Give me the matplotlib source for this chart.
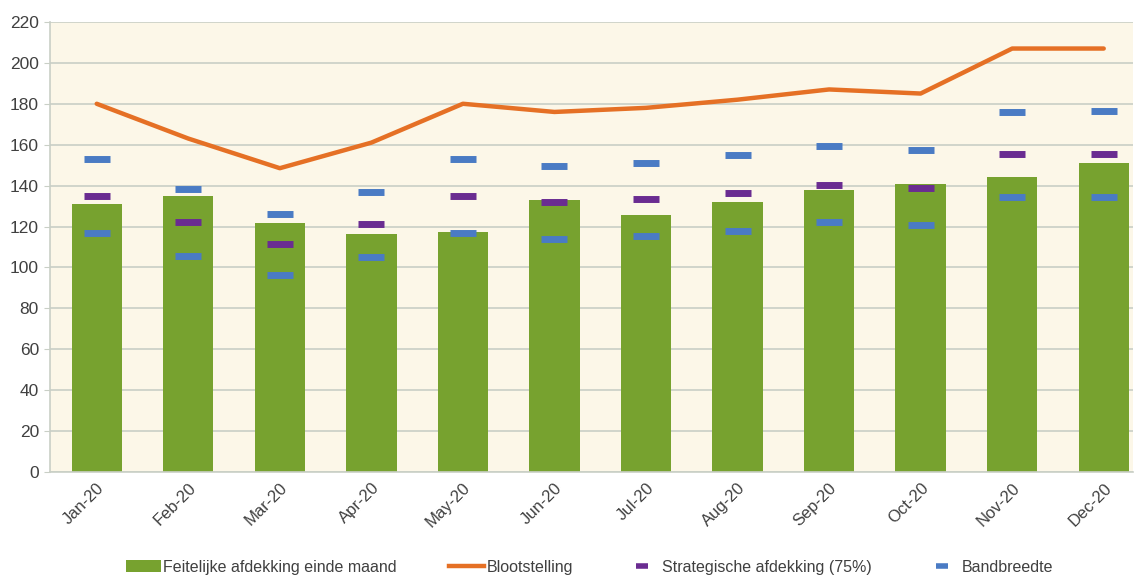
import matplotlib
matplotlib.use("Agg")
import matplotlib.pyplot as plt
from matplotlib.lines import Line2D
from matplotlib.patches import Patch

plt.rcParams['font.family'] = ['Liberation Sans', 'DejaVu Sans']

months = ["Jan-20", "Feb-20", "Mar-20", "Apr-20", "May-20", "Jun-20",
          "Jul-20", "Aug-20", "Sep-20", "Oct-20", "Nov-20", "Dec-20"]
actual = [131, 135, 121.5, 116.5, 117.5, 133, 125.5, 132, 138, 141, 144, 151]
exposure = [180, 163, 148.5, 161, 180, 176, 178, 182, 187, 185, 207, 207]
strategic = [135, 122, 111.5, 121, 135, 132, 133.5, 136.5, 140.5, 139, 155.5, 155.5]
band_upper = [153, 138.5, 126, 137, 153, 149.5, 151, 155, 159.5, 157.5, 176, 176.5]
band_lower = [117, 105.5, 96.5, 105, 117, 114, 115.5, 118, 122, 120.5, 134.5, 134.5]
yticks = [0, 20, 40, 60, 80, 100, 120, 140, 160, 180, 200, 220]

green = "#77a22f"
orange = "#e57025"
purple = "#6a2c91"
blue = "#4a7bc4"
grid = "#c9cfc6"
txt = "#404040"

fig = plt.figure(figsize=(11.37, 5.76), dpi=100)
ax = fig.add_axes([0.044, 0.1806, 0.9525, 0.7813])
ax.set_facecolor("#fcf7e8")
x = list(range(len(months)))

ax.bar(x, actual, width=0.55, color=green, zorder=2)
ax.plot(x, exposure, color=orange, lw=3.2, zorder=3, solid_capstyle='round')
ax.plot(x, strategic, ls='none', marker='_', ms=19, mew=5, color=purple, zorder=4)
ax.plot(x, band_upper, ls='none', marker='_', ms=19, mew=5, color=blue, zorder=4)
ax.plot(x, band_lower, ls='none', marker='_', ms=19, mew=5, color=blue, zorder=4)

ax.set_xlim(-0.51, 11.32)
ax.set_ylim(0, 220)
ax.set_yticks(yticks)
ax.yaxis.grid(True, color=grid, lw=1.2, zorder=0)
ax.set_axisbelow(True)
for s in ["top", "right"]:
    ax.spines[s].set_visible(False)
for s in ["left", "bottom"]:
    ax.spines[s].set_color(grid)
    ax.spines[s].set_linewidth(1.2)
ax.tick_params(axis='y', length=4, color=grid, labelsize=12.5, labelcolor=txt, pad=4)
ax.tick_params(axis='x', length=0, labelsize=12, labelcolor=txt, pad=6)
ax.set_xticks(x)
ax.set_xticklabels(months, rotation=45, ha='right', rotation_mode='anchor')

handles = [
    Patch(facecolor=green, edgecolor='none'),
    Line2D([0], [0], color=orange, lw=3.2),
    Line2D([0], [0], ls='none', marker='_', ms=9, mew=4, color=purple),
    Line2D([0], [0], ls='none', marker='_', ms=9, mew=4, color=blue),
]
labels = ["Feitelijke afdekking einde maand", "Blootstelling",
          "Strategische afdekking (75%)", "Bandbreedte"]
fig.legend(handles, labels, loc='center', bbox_to_anchor=(0.5185, 0.0156),
           ncol=4, frameon=False, fontsize=11.5, columnspacing=3.25,
           handlelength=2.2, handletextpad=0.15, labelcolor=txt)

fig.savefig("out.png", dpi=100, facecolor='white')
